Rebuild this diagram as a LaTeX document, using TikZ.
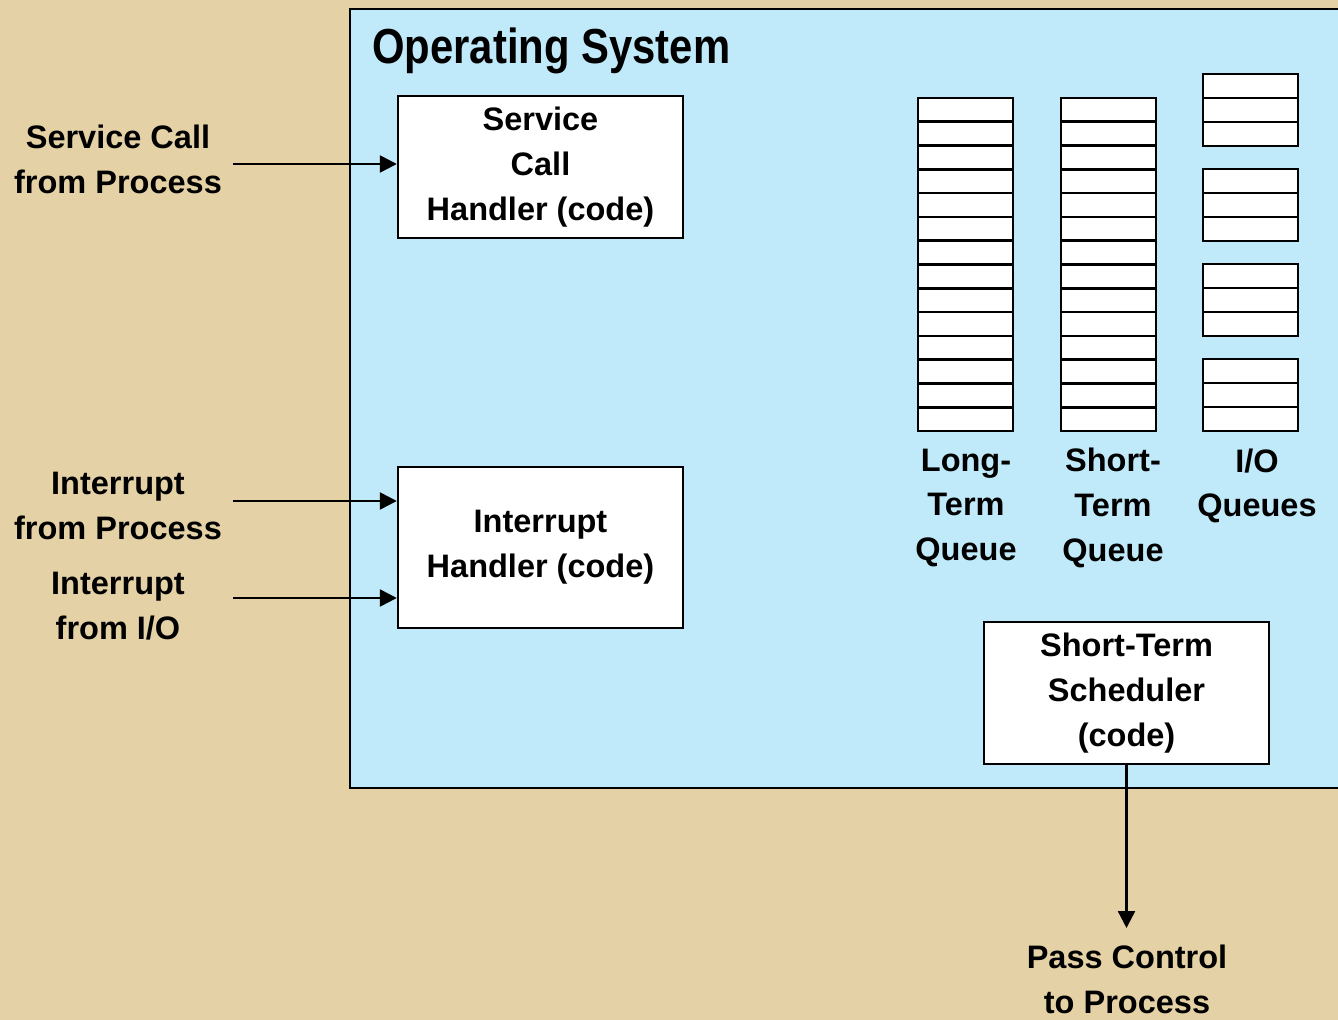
\documentclass[tikz,border=0pt]{standalone}
\usepackage{fontspec}
\setmainfont{Liberation Sans}
\newfontfamily\titlefont[FakeStretch=0.85]{Liberation Sans}
\usetikzlibrary{arrows.meta}
\definecolor{parchment}{RGB}{229,209,166}
\definecolor{osblue}{RGB}{192,233,249}
\tikzset{
  txt/.style={font=\fontsize{18.5}{25.5}\selectfont\bfseries, align=center},
  handler/.style={txt, draw, fill=white, line width=1.4pt,
    minimum width=5.7cm, minimum height=2.84cm, inner sep=0pt},
  cell/.style={draw, fill=white, line width=1.5pt},
  arr/.style={line width=1.4pt, -{Triangle[length=0.34cm,width=0.34cm]}},
}

\begin{document}
\begin{tikzpicture}[x=0.02cm, y=-0.02cm]
    \fill[parchment] (0,0) rectangle (1338,1020);
    \useasboundingbox (0,0) rectangle (1338,1020);

    % operating system area
    \draw[fill=osblue, line width=1.4pt] (350,9) rectangle (1360,788);
    \node[anchor=base west, inner sep=0,
      font=\titlefont\fontsize{28}{30}\selectfont\bfseries] (os) at (372,64) {Operating System};

    % handlers
    \node[handler] (sch) at (540.5,167) {Service\\Call\\Handler (code)};
    \node[handler, minimum height=3.22cm] (ih) at (540.5,547.5) {Interrupt\\Handler (code)};
    \node[handler] (sts) at (1126.5,693) {Short-Term\\Scheduler\\(code)};

    % queues
    \foreach \i in {0,...,13}
    {\draw[cell] (918,98+23.79*\i) rectangle ++(95,23.79);
     \draw[cell] (1061,98+23.79*\i) rectangle ++(95,23.79);
    }
    \foreach \g in {0,...,3}
    {\foreach \i in {0,1,2}
      \draw[cell] (1203,74+95*\g+24*\i) rectangle ++(95,24);
    }
    \node[txt] (ltq) at (966,508) {Long-\\Term\\Queue};
    \node[txt] (stq) at (1113,508) {Short-\\Term\\Queue};
    \node[txt] (ioq) at (1257,486) {I/O\\Queues};

    % incoming events
    \node[txt] (scp) at (118,159) {Service Call\\from Process};
    \node[txt] (ifp) at (118,506) {Interrupt\\from Process};
    \node[txt] (ifio) at (118,606) {Interrupt\\from I/O};
    \coordinate (scin) at (233,164);
    \coordinate (ipin) at (233,501);
    \coordinate (ioin) at (233,598);
    \draw[arr] (scin) -- (scin -| sch.west);
    \draw[arr] (ipin) -- (ipin -| ih.west);
    \draw[arr] (ioin) -- (ioin -| ih.west);

    % dispatch
    \node[txt, anchor=north, inner ysep=0.34cm] (pass) at (1127,928) {Pass Control\\to Process};
    \draw[arr] (sts.south) -- (sts.south |- pass.north);
\end{tikzpicture}
\end{document}
